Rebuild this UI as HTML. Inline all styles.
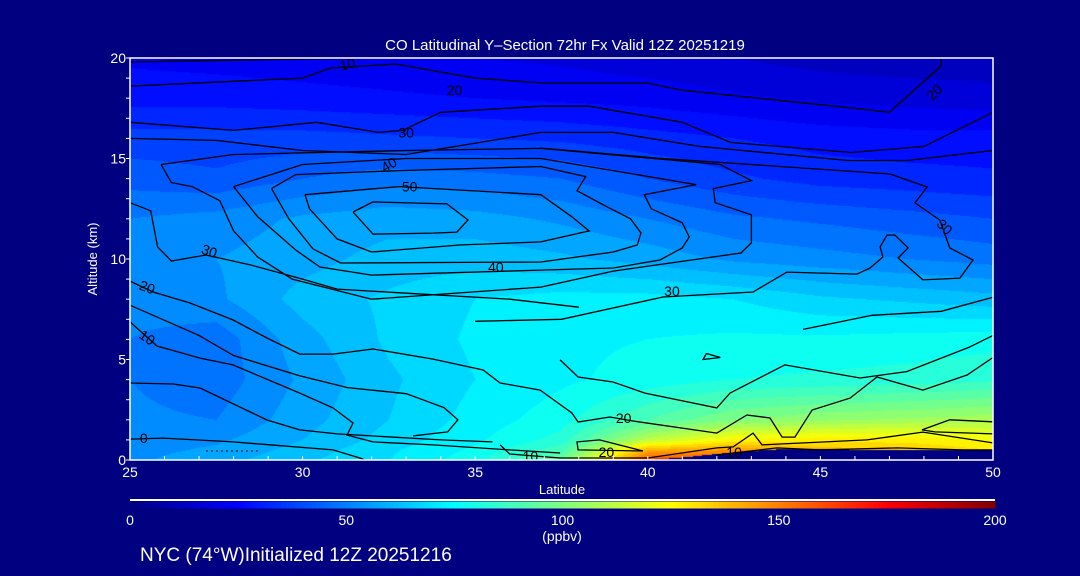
<!DOCTYPE html>
<html><head><meta charset="utf-8">
<style>
html,body{margin:0;padding:0;background:#000080;width:1080px;height:576px;overflow:hidden;font-family:"Liberation Sans",sans-serif;color:#fff}
#wrap{position:relative;width:1080px;height:576px}
canvas{position:absolute;left:130px;top:58px}
svg{position:absolute;left:0;top:0}
</style></head>
<body>
<div id="wrap">
<canvas id="fill" width="863" height="402"></canvas>
<svg id="svg" width="1080" height="576"></svg>
</div>
<script>
// ---- data ----
const lats = [25,27.5,30,32.5,35,37.5,40,42.5,45,47.5,50];
const alts = [0,0.5,1,2,4,6,8,10,12,14,16,18,20];
const co0  = [54,58,64,70,78,95,160,160,150,145,140];
const co05 = [53,56,62,69,76,88,140,145,138,135,130];
const co1  = [52,54,60,67,74,82,112,126,128,128,124];
const co2  = [51,50,58,65,72,78,90,100,104,106,108];
const co4  = [50,47,56,64,70,74,77,80,81,82,84];
const co6  = [50,47,58,66,71,74,75,76,76,77,78];
const co8  = [52,54,62,66,70,72,72,70,66,64,62];
const co10 = [54,55,58,62,63,61,58,54,52,50,48];
const co12 = [50,52,56,58,57,54,50,46,44,42,40];
const co14 = [43,41,45,48,47,45,40,36,33,32,31];
const co16 = [37,37,37,36,35,34,32,30,28,27,27];
const co18 = [28,28,27,26,25,24,23,21,19,18,17];
const co20 = [24,23,22,21,20,19,17,15,13,12,12];
const coRows = [co0,co05,co1,co2,co4,co6,co8,co10,co12,co14,co16,co18,co20];
const terrainLat = [25,40,41,42,43,44,45,46.5,48,50];
const terrainAlt = [0,0,0.12,0.3,0.45,0.55,0.55,0.5,0.5,0.5];
const xTicks = [25,30,35,40,45,50];
const yTicks = [0,5,10,15,20];
const cbTicks = [0,50,100,150,200];
// contour polylines [lat,alt]
const cLoop1 = [[31.46,12.34],[32.04,12.84],[34.18,12.74],[34.79,11.94],[34.47,11.34],[33.78,11.29],[32.04,11.24],[31.46,12.34]];
const cLoop2 = [[30.07,13.2],[32.8,13.6],[36.9,13.2],[37.8,12.1],[38.3,11.4],[36.9,10.85],[34.6,10.7],[32.0,10.35],[31.0,11.0],[30.2,12.5],[30.07,13.2]];
const cLoop3 = [[29.1,13.5],[29.8,14.2],[32.8,14.4],[36.9,14.6],[38.2,14.1],[37.95,13.4],[38.7,12.7],[39.5,12.0],[39.8,11.3],[39.7,10.7],[39.0,10.35],[36.9,9.85],[31.1,9.8],[30.3,10.5],[29.6,12.0],[29.1,13.5]];
const cLoop4 = [[28.0,13.6],[30,14.7],[33,15.0],[36.9,15.0],[41.4,13.7],[39.9,13.2],[40.1,12.5],[41.0,11.8],[41.2,11.1],[41.0,10.55],[40.35,9.95],[39.0,9.55],[36.9,9.45],[32,9.2],[30.5,9.6],[29.8,10.45],[28.7,12.1],[28.0,13.6]];
const cLoop5 = [[25.9,14.7],[28,15.2],[33,15.4],[36.9,15.5],[42.1,14.7],[43.0,13.9],[41.9,13.5],[41.95,12.8],[43.0,12.2],[43.0,10.8],[42.7,10.3],[39.0,9.4],[36.9,8.6],[32,8.0],[29.7,9.0],[28.7,10.1],[28.0,11.4],[27.6,12.9],[26.8,13.6],[26.2,13.8],[25.9,14.7]];
const cTop10 = [[25,19.8],[30,19.95],[33,20]];
const cTop20 = [[25,18.6],[30,19.0],[30.8,19.5],[32.7,19.7],[35,19.0],[37,18.75],[40,18.75],[41,18.4],[46,17.5],[47,17.3],[48.5,19.6],[48.5,20]];
const cUpper30 = [[25,16.8],[28,16.4],[30.4,16.8],[32.2,16.3],[32.9,16.4],[34,17.3],[36.9,17.6],[38.3,17.6],[41.0,16.8],[42.4,15.8],[45.9,15.3],[48.0,15.6],[50,17.3]];
const cUpper35 = [[25,16.0],[27.5,15.9],[30,15.4],[33,15.2],[36.9,16.3],[39,16.3],[41.5,15.6],[45.8,14.9],[47.5,14.9],[50,15.4]];
const cRight30 = [[36.88,15.52],[40.27,15.02],[47.02,14.23],[48.09,13.58],[47.74,12.79],[48.46,11.94],[48.75,10.55],[49.42,9.95],[49.04,9.05],[47.97,8.96],[47.25,10.05],[47.54,10.55],[47.16,11.19],[46.93,11.19],[46.73,10.6],[46.81,10.1],[46.44,9.55],[46.06,9.25],[44.03,9.35],[43.05,8.36],[40.44,8.11],[38.99,7.56],[37.5,7.0],[35,6.9]];
const cLeft30 = [[25,12.8],[25.6,12.4],[25.8,10.6],[26.2,9.9],[27.2,10.2],[28.5,9.7],[30,9.0],[31,8.5],[33,8.3],[36,8.0],[38,7.6]];
const cLeft20 = [[25,8.9],[25.67,8.36],[26.74,7.81],[27.98,6.97],[28.97,6.07],[29.92,5.27],[30.88,5.27],[32.04,5.52],[33.78,5.02],[35.23,4.48],[35.72,3.83]];
const cRight20a = [[35.72,3.83],[36.88,3.48],[37.8,2.34],[37.98,1.89],[38.9,2.14],[39.57,1.94],[42.0,1.34],[42.87,2.24],[43.54,2.09],[43.89,1.14],[44.26,1.14],[44.76,2.49],[45.86,3.08],[46.64,4.13],[47.97,3.48],[49.25,4.23],[50,5.1]];
const cRight20b = [[37.46,4.98],[37.98,4.13],[38.99,3.88],[39.92,3.33],[42.0,2.59],[42.38,3.33],[43.97,4.73],[46.15,4.08],[47.5,4.4],[49.3,5.6],[50,6.2]];
const cRight8 = [[44.5,6.5],[46.5,7.2],[48.5,7.4],[50,8.1]];
const cMid = [[25,7.7],[27.0,6.2],[28.0,5.2],[29.9,4.2],[31.3,3.6],[33.0,3.3],[34.1,2.6],[34.5,2.0],[34.2,1.4],[33.2,1.2]];
const cLeft10 = [[25,6.87],[25.78,5.67],[27.03,5.07],[27.98,4.73],[29.92,3.33],[30.88,2.59],[31.46,1.84],[31.29,1.24],[32.04,0.9],[33.78,0.75],[36.0,0.5],[37.46,0.35]];
const cLeft0a = [[25,3.83],[26.25,3.78],[27.03,3.58],[28.97,1.99],[29.92,1.5],[31,1.3],[32,1.2],[34,1.0],[35.5,0.9]];
const cLeft0 = [[25,1.04],[25.96,1.09],[27.98,0.9],[30.88,0.5],[31.66,0.1],[31.8,0]];
const cSmall20 = [[39.86,0.45],[38.6,1.0],[37.95,0.9],[37.98,0.5],[39.86,0.45]];
const cLow10 = [[35.72,0.75],[36.0,0.3],[37.46,0.1],[40.0,0.1],[42.0,0.6],[42.47,0.65],[43.05,1.34],[43.31,0.75],[46.35,1.0],[47.97,1.39],[50,0.85]];
const cLow5 = [[42.0,0.25],[43.74,0.6],[44.99,0.5],[47.22,0.6],[49.13,0.5],[50,0.5]];
const cLowLoop = [[50,1.9],[48.75,2.0],[47.94,1.5],[48.32,1.4],[50,1.3]];
const cDot = [[27.2,0.45],[28.7,0.45]];
const cSmallLoop = [[41.7,5.3],[42.1,5.1],[41.6,5.0],[41.7,5.3]];
const contours = [cLoop1,cLoop2,cLoop3,cLoop4,cLoop5,cTop10,cTop20,cUpper30,cUpper35,cRight30,cLeft30,cLeft20,cRight20a,cRight20b,cRight8,cMid,cLeft10,cLeft0a,cLeft0,cSmall20,cLow10,cLow5,cLowLoop,cSmallLoop];
const labelText = ["10","20","30","40","50","30","40","30","20","30","20","10","0","20","20","10","10"];
const labelLat  = [31.3,34.4,33.0,32.5,33.1,27.3,35.6,40.7,48.3,48.6,25.5,25.5,25.4,39.3,38.8,36.6,42.5];
const labelAlt  = [19.7,18.4,16.3,14.7,13.6,10.4,9.6,8.4,18.3,11.6,8.6,6.1,1.1,2.1,0.4,0.2,0.4];
const labelRot  = [-15,0,0,-30,0,20,0,0,-45,45,20,35,0,0,0,0,0];

// ---- axes ----
const X0=130,X1=993,Y0=460,Y1=58;
const xs = lat => X0 + (lat-25)/(50-25)*(X1-X0);
const ys = alt => Y0 - alt/20*(Y0-Y1);

function jet(v){
  const t = Math.max(0,Math.min(1,v/200));
  const c = x => Math.max(0,Math.min(1,1.5-Math.abs(x)));
  return [c(4*t-3)*255, c(4*t-2)*255, c(4*t-1)*255];
}
function interp(arr,v){
  if(v<=arr[0]) return [0,0];
  for(let i=0;i<arr.length-1;i++){ if(v<=arr[i+1]) return [i,(v-arr[i])/(arr[i+1]-arr[i])]; }
  return [arr.length-2,1];
}
function terrainAt(lat){const [i,f]=interp(terrainLat,lat);return terrainAlt[i]*(1-f)+terrainAlt[i+1]*f;}
function coAt(lat,alt){
  const [i,fi]=interp(lats,lat),[j,fj]=interp(alts,alt);
  const a=coRows[j][i],b=coRows[j][i+1],c=coRows[j+1][i],d=coRows[j+1][i+1];
  return (a*(1-fi)+b*fi)*(1-fj)+(c*(1-fi)+d*fi)*fj;
}
// ---- fill ----
const cv=document.getElementById('fill'),ctx=cv.getContext('2d');
const W=cv.width,H=cv.height,img=ctx.createImageData(W,H);
for(let py=0;py<H;py++){
  const alt=(Y0-(py+58+0.5))/(Y0-Y1)*20;
  for(let px=0;px<W;px++){
    const lat=25+(px+0.5)/(X1-X0)*25;
    let col;
    if(alt<terrainAt(lat)) col=[0,0,128];
    else { let v=coAt(lat,alt); v=Math.floor(v/5)*5+2.5; col=jet(v); }
    const k=(py*W+px)*4; img.data[k]=col[0];img.data[k+1]=col[1];img.data[k+2]=col[2];img.data[k+3]=255;
  }
}
ctx.putImageData(img,0,0);

// ---- svg ----
const NS='http://www.w3.org/2000/svg',svg=document.getElementById('svg');
function mk(tag,attrs,parent){const e=document.createElementNS(NS,tag);for(const k in attrs)e.setAttribute(k,attrs[k]);(parent||svg).appendChild(e);return e;}
const gC=mk('g',{});


contours.forEach(c=>{
  const p=mk('polyline',{points:c.map(q=>xs(q[0]).toFixed(1)+','+ys(q[1]).toFixed(1)).join(' '),fill:'none',stroke:'#000','stroke-width':1.3},gC);
  
  
});
const dl=mk('polyline',{points:cDot.map(q=>xs(q[0])+','+ys(q[1])).join(' '),fill:'none',stroke:'#000','stroke-width':1,'stroke-dasharray':'2,3'},gC);


labelText.forEach((t,i)=>{
  const x=xs(labelLat[i]),y=ys(labelAlt[i]);
  const e=mk('text',{x:x,y:y+5,'font-size':14,fill:'#000','text-anchor':'middle',transform:`rotate(${labelRot[i]} ${x} ${y})`},gC);
  e.textContent=t;
  
  
});
const fr=mk('rect',{x:X0,y:Y1,width:X1-X0,height:Y0-Y1,fill:'none',stroke:'#fff','stroke-width':1.5});


for(let l=25;l<=50;l++){mk('line',{x1:xs(l),x2:xs(l),y1:Y0,y2:Y0-4,stroke:'#fff','stroke-width':1});}
for(let a=0;a<=20;a++){mk('line',{x1:X0,x2:X0-4,y1:ys(a),y2:ys(a),stroke:'#fff','stroke-width':1});}
xTicks.forEach(v=>{const t=mk('text',{x:xs(v),y:477,'font-size':14,fill:'#fff','text-anchor':'middle'});t.textContent=v;
  
  });
yTicks.forEach(v=>{const t=mk('text',{x:126,y:ys(v)+5,'font-size':14,fill:'#fff','text-anchor':'end'});t.textContent=v;
  
  });
let t=mk('text',{x:565,y:50,'font-size':15,fill:'#fff','text-anchor':'middle'});t.textContent='CO Latitudinal Y\u2013Section 72hr  Fx Valid 12Z 20251219';t.setAttribute('xml:space','preserve');


t=mk('text',{x:0,y:0,'font-size':13,fill:'#fff','text-anchor':'middle',transform:'translate(97,259) rotate(-90)'});t.textContent='Altitude (km)';


t=mk('text',{x:562,y:494,'font-size':13,fill:'#fff','text-anchor':'middle'});t.textContent='Latitude';


const cbG=mk('g',{});


mk('line',{x1:130,x2:995,y1:500,y2:500,stroke:'#fff','stroke-width':2},cbG);
const CB0=130,CB1=995,cbx=v=>CB0+v/200*(CB1-CB0);
for(let v=0;v<200;v++){mk('rect',{x:cbx(v),y:501.5,width:(CB1-CB0)/200+0.6,height:7,fill:`rgb(${jet(v+0.5).map(Math.round).join(',')})`},cbG);}
cbTicks.forEach(v=>{const e=mk('text',{x:cbx(v),y:525,'font-size':14,fill:'#fff','text-anchor':'middle'},cbG);e.textContent=v;
  
  });
t=mk('text',{x:562,y:541,'font-size':14,fill:'#fff','text-anchor':'middle'},cbG);t.textContent='(ppbv)';


t=mk('text',{x:140,y:561,'font-size':19,fill:'#fff'});t.textContent='NYC (74\u00B0W)Initialized 12Z 20251216';


</script>
</body></html>
